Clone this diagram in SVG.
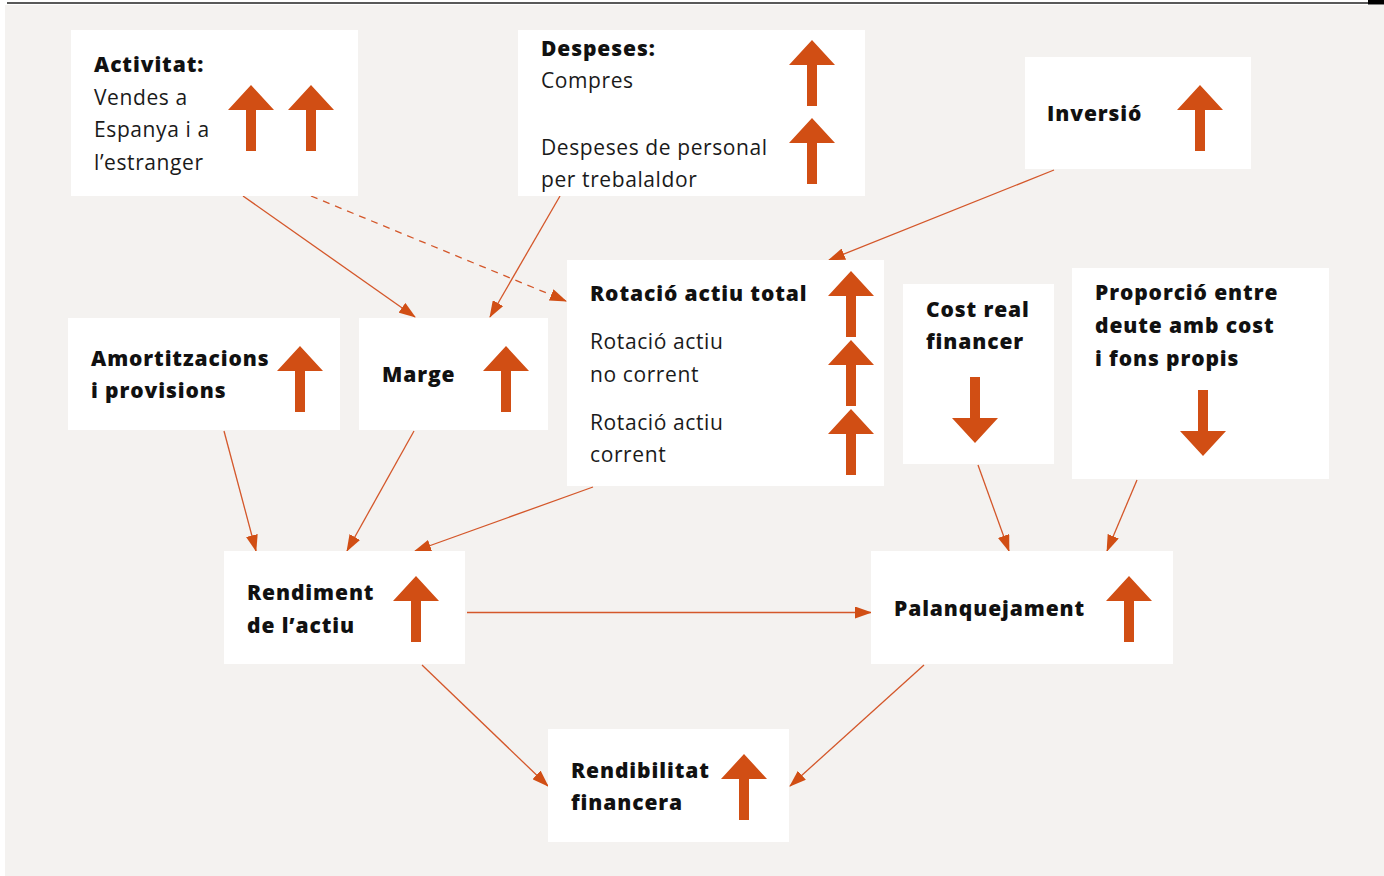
<svg xmlns="http://www.w3.org/2000/svg" width="1384" height="876" viewBox="0 0 1384 876">
<style>
.box{fill:#ffffff}
.t{font-family:"Open Sans","Liberation Sans",sans-serif;font-size:21px;fill:#1a1a1a;letter-spacing:0.6px}
.b{font-weight:800;fill:#111;letter-spacing:0.9px}
.con{stroke:#d4572a;stroke-width:1.3;fill:none}
.dash{stroke-dasharray:7,6}
.arr{fill:#d14e14}
</style>
<defs>
<marker id="ah" markerUnits="userSpaceOnUse" markerWidth="17" markerHeight="12" refX="16" refY="6" orient="auto">
<path d="M0,0 L17,6 L0,12 Z" fill="#d14e14"/>
</marker>
<path id="up" d="M0,0 L23,25 L5,25 L5,66 L-5,66 L-5,25 L-23,25 Z"/>
<path id="down" d="M0,0 L23,-25 L5,-25 L5,-66 L-5,-66 L-5,-25 L-23,-25 Z"/>
</defs>
<rect x="0" y="0" width="1384" height="876" fill="#ffffff"/>
<rect x="5" y="5" width="1379" height="871" fill="#f4f2f0"/>
<line x1="7" y1="3" x2="1368" y2="3" stroke="#222" stroke-width="1.6"/>
<rect x="1368" y="0" width="16" height="4.5" fill="#000"/>

<g id="connectors">
<line class="con" x1="243" y1="196" x2="415" y2="317" marker-end="url(#ah)"/>
<line class="con dash" x1="311" y1="196" x2="566" y2="301" marker-end="url(#ah)"/>
<line class="con" x1="560" y1="196" x2="490" y2="317" marker-end="url(#ah)"/>
<line class="con" x1="1054" y1="170" x2="829" y2="260" marker-end="url(#ah)"/>
<line class="con" x1="224" y1="431" x2="256" y2="551" marker-end="url(#ah)"/>
<line class="con" x1="414" y1="431" x2="347" y2="551" marker-end="url(#ah)"/>
<line class="con" x1="593" y1="487" x2="415" y2="551" marker-end="url(#ah)"/>
<line class="con" x1="978" y1="465" x2="1009" y2="551" marker-end="url(#ah)"/>
<line class="con" x1="1137" y1="480" x2="1107" y2="551" marker-end="url(#ah)"/>
<line class="con" x1="467" y1="612.5" x2="871" y2="612.5" marker-end="url(#ah)"/>
<line class="con" x1="422" y1="665" x2="548" y2="786" marker-end="url(#ah)"/>
<line class="con" x1="924" y1="665" x2="790" y2="786" marker-end="url(#ah)"/>
</g>

<g id="activitat">
<rect class="box" x="71" y="30" width="287" height="166"/>
<text class="t b" x="94" y="72">Activitat:</text>
<text class="t" x="94" y="105">Vendes a</text>
<text class="t" x="94" y="137">Espanya i a</text>
<text class="t" x="94" y="170">l’estranger</text>
<use href="#up" class="arr" x="251" y="85"/>
<use href="#up" class="arr" x="311" y="85"/>
</g>

<g id="despeses">
<rect class="box" x="518" y="30" width="347" height="166"/>
<text class="t b" x="541" y="56">Despeses:</text>
<text class="t" x="541" y="88">Compres</text>
<text class="t" x="541" y="155">Despeses de personal</text>
<text class="t" x="541" y="187">per trebalaldor</text>
<use href="#up" class="arr" x="812" y="40"/>
<use href="#up" class="arr" x="812" y="118"/>
</g>

<g id="inversio">
<rect class="box" x="1025" y="57" width="226" height="112"/>
<text class="t b" x="1047" y="121">Inversió</text>
<use href="#up" class="arr" x="1200" y="85"/>
</g>

<g id="amortitzacions">
<rect class="box" x="68" y="318" width="272" height="112"/>
<text class="t b" x="91" y="366">Amortitzacions</text>
<text class="t b" x="91" y="398">i provisions</text>
<use href="#up" class="arr" x="300" y="346"/>
</g>

<g id="marge">
<rect class="box" x="359" y="318" width="189" height="112"/>
<text class="t b" x="382" y="382">Marge</text>
<use href="#up" class="arr" x="506" y="346"/>
</g>

<g id="rotacio">
<rect class="box" x="567" y="260" width="317" height="226"/>
<text class="t b" x="590" y="301">Rotació actiu total</text>
<text class="t" x="590" y="349">Rotació actiu</text>
<text class="t" x="590" y="382">no corrent</text>
<text class="t" x="590" y="430">Rotació actiu</text>
<text class="t" x="590" y="462">corrent</text>
<use href="#up" class="arr" x="851" y="271"/>
<use href="#up" class="arr" x="851" y="340"/>
<use href="#up" class="arr" x="851" y="409"/>
</g>

<g id="cost">
<rect class="box" x="903" y="284" width="151" height="180"/>
<text class="t b" x="926" y="317">Cost real</text>
<text class="t b" x="926" y="349">financer</text>
<use href="#down" class="arr" x="975" y="443"/>
</g>

<g id="proporcio">
<rect class="box" x="1072" y="268" width="257" height="211"/>
<text class="t b" x="1095" y="300">Proporció entre</text>
<text class="t b" x="1095" y="333">deute amb cost</text>
<text class="t b" x="1095" y="366">i fons propis</text>
<use href="#down" class="arr" x="1203" y="456"/>
</g>

<g id="rendiment">
<rect class="box" x="224" y="551" width="241" height="113"/>
<text class="t b" x="247" y="600">Rendiment</text>
<text class="t b" x="247" y="633">de l’actiu</text>
<use href="#up" class="arr" x="416" y="576"/>
</g>

<g id="palanquejament">
<rect class="box" x="871" y="551" width="302" height="113"/>
<text class="t b" x="894" y="616">Palanquejament</text>
<use href="#up" class="arr" x="1129" y="576"/>
</g>

<g id="rendibilitat">
<rect class="box" x="548" y="729" width="241" height="113"/>
<text class="t b" x="571" y="778">Rendibilitat</text>
<text class="t b" x="571" y="810">financera</text>
<use href="#up" class="arr" x="744" y="754"/>
</g>
</svg>
